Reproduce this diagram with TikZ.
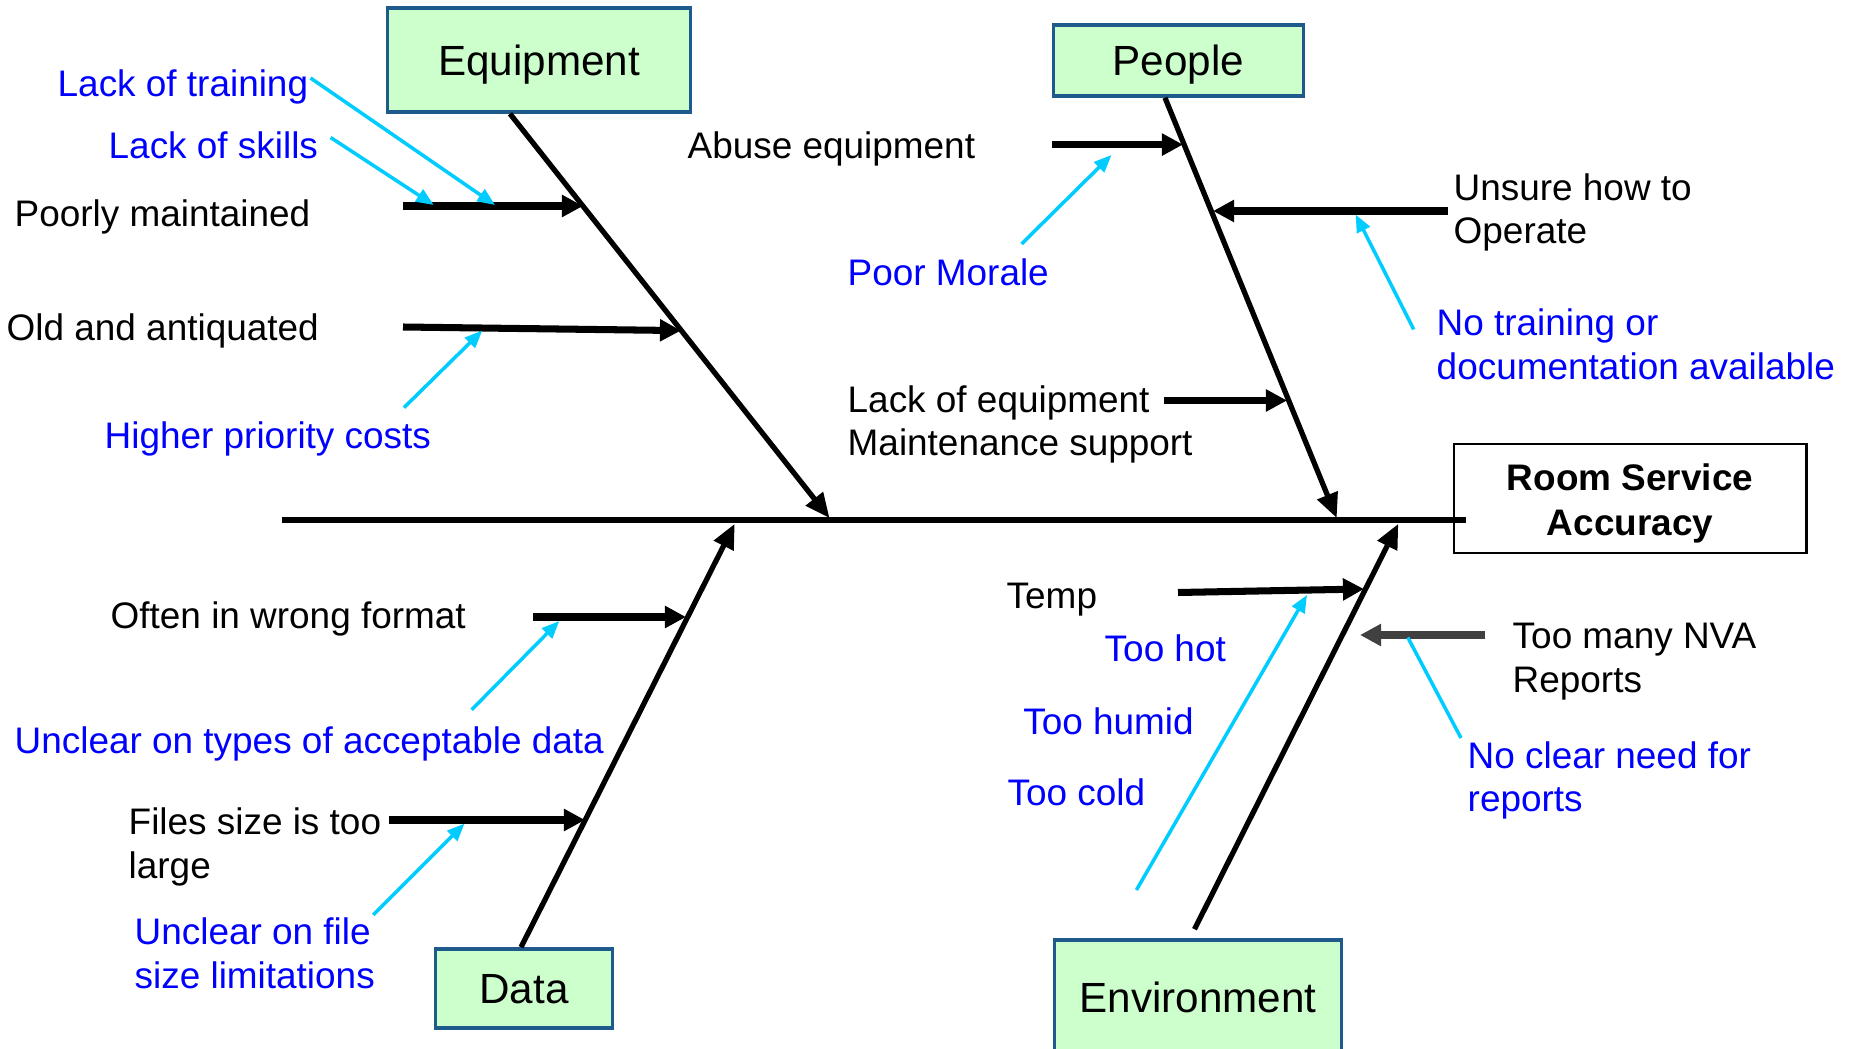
\documentclass[tikz,border=0pt]{standalone}
\usepackage{fontspec}
\setmainfont{Liberation Sans}
\usepackage{tikz}
\usetikzlibrary{arrows.meta,positioning}

\definecolor{boxfill}{HTML}{CCFFCC}
\definecolor{boxline}{HTML}{1F5A8C}
\definecolor{hintcyan}{HTML}{00CCFF}
\definecolor{darkarrow}{HTML}{404040}

\tikzset{
  category/.style={draw=boxline, line width=1pt, fill=boxfill, inner sep=0pt, text height=0.88em, text depth=0pt, font=\fontsize{12}{14}\selectfont},
  cause/.style={inner sep=0pt, anchor=west, align=left, yshift=-0.045cm, font=\fontsize{10.5}{12.4}\selectfont},
  subcause/.style={cause, text=blue},
  bone/.style={line width=1.5pt, -{Triangle[length=7pt,width=6pt]}},
  twig/.style={line width=2pt, -{Triangle[length=6pt,width=6pt]}},
  hint/.style={draw=hintcyan, line width=1pt, -{Triangle[length=5pt,width=4pt]}}
}

\begin{document}
\begin{tikzpicture}[x=0.01cm, y=-0.01cm]
\useasboundingbox (0,0) rectangle (1858,1049);

% effect and category boxes
\node[draw, line width=0.8pt, minimum width=3.52cm, minimum height=1.09cm, name=result] at (1630,498.5) {};
\node[align=center, font=\bfseries\fontsize{10.5}{13}\selectfont, name=resulttext] at ([yshift=-0.05cm]result.center) {Room Service\\Accuracy};
\node[category, name=eq, minimum width=3.03cm, minimum height=1.04cm] at (539,60) {Equipment};
\node[category, name=pe, minimum width=2.50cm, minimum height=0.71cm] at (1178.5,60.5) {People};
\node[category, name=da, minimum width=1.77cm, minimum height=0.79cm] at (524,988.5) {Data};
\node[category, name=en, minimum width=2.87cm, minimum height=1.15cm] at (1198,997.5) {Environment};

% spine and bones
\coordinate (tail) at (282,520);
\coordinate (eqjoint) at (829.5,518);
\coordinate (pejoint) at (1336.7,518);
\coordinate (dajoint) at (734.7,523.8);
\coordinate (enjoint) at (1398.3,523.8);
\draw[line width=1.5pt] (tail) -- ([xshift=0.13cm]tail -| result.west);
\draw[bone] ([xshift=-0.29cm]eq.south) -- (eqjoint);
\draw[bone] ([xshift=-0.135cm]pe.south) -- (pejoint);
\draw[bone] ([xshift=-0.03cm]da.north) -- (dajoint);
\draw[bone] ([xshift=-0.035cm,yshift=0.09cm]en.north) -- (enjoint);

% causes
\node[cause, name=poorly] at (14,212) {Poorly maintained};
\node[cause, name=old] at (6,326) {Old and antiquated};
\node[cause, name=abuse] at (687,144) {Abuse equipment};
\node[cause, name=unsure] at (1453,208) {Unsure how to\\Operate};
\node[cause, name=lackeq] at (847,420) {Lack of equipment\\Maintenance support};
\node[cause, name=often] at (110,614) {Often in wrong format};
\node[cause, name=files] at (128,842.5) {Files size is too\\large};
\node[cause, name=temp] at (1006,595) {Temp};
\node[cause, name=nva] at (1512,657) {Too many NVA\\Reports};

% sub causes
\node[subcause, name=training] at (57,82) {Lack of training};
\node[subcause, name=skills] at (108,141) {Lack of skills};
\node[subcause, name=priority] at (104,434) {Higher priority costs};
\node[subcause, name=morale] at (847,268) {Poor Morale};
\node[subcause, name=notrain] at (1436,340) {No training or\\documentation available};
\node[subcause, name=types] at (14,739) {Unclear on types of acceptable data};
\node[subcause, name=filesize] at (134,949) {Unclear on file\\size limitations};
\node[subcause, name=hot] at (1104,643.5) {Too hot};
\node[subcause, name=humid] at (1022.6,717) {Too humid};
\node[subcause, name=cold] at (1007,788) {Too cold};
\node[subcause, name=noneed] at (1467,776) {No clear need for\\reports};

% twig ends
\coordinate (poorlyA) at (403,206);   \coordinate (poorlyB) at (583,206);
\coordinate (oldA) at (403,327);      \coordinate (oldB) at (681,330.6);
\coordinate (abuseA) at (1052,144.6); \coordinate (abuseB) at (1183,144.6);
\coordinate (unsureA) at (1448,211);  \coordinate (unsureB) at (1213,211);
\coordinate (lackeqA) at (1163.7,400.5); \coordinate (lackeqB) at (1287,400.5);
\coordinate (oftenA) at (533,617);    \coordinate (oftenB) at (686,617);
\coordinate (filesA) at (388.7,820);  \coordinate (filesB) at (585,820);
\coordinate (tempA) at (1178,592.5);  \coordinate (tempB) at (1364,589);
\coordinate (nvaA) at (1485,635);     \coordinate (nvaB) at (1360,635);

% connections
\draw[twig] (poorlyA) -- (poorlyB);
\draw[twig] (oldA) -- (oldB);
\draw[twig] (abuseA) -- (abuseB);
\draw[twig] (unsureA) -- (unsureB);
\draw[twig] (lackeqA) -- (lackeqB);
\draw[twig] (oftenA) -- (oftenB);
\draw[twig] (filesA) -- (filesB);
\draw[twig] (tempA) -- (tempB);
\draw[twig, darkarrow] (nvaA) -- (nvaB);

% hint arrows
\coordinate (trainingA) at (310.5,78);  \coordinate (trainingB) at (495,205);
\coordinate (skillsA) at (330.6,137.5); \coordinate (skillsB) at (433.7,205);
\coordinate (priorityA) at (404,407.6); \coordinate (priorityB) at (482.3,330.6);
\coordinate (moraleA) at (1021.5,244);  \coordinate (moraleB) at (1111.5,155);
\coordinate (notrainA) at (1413.7,329.4); \coordinate (notrainB) at (1355.6,214.5);
\coordinate (typesA) at (471.6,709.8);  \coordinate (typesB) at (559.3,621);
\coordinate (filesizeA) at (373.3,914.8); \coordinate (filesizeB) at (464.5,823.6);
\coordinate (climateA) at (1136.4,890); \coordinate (climateB) at (1307,594.9);
\coordinate (noneedA) at (1461,738);    \coordinate (noneedB) at (1407.8,637.5);
\draw[hint] (trainingA) -- (trainingB);
\draw[hint] (skillsA) -- (skillsB);
\draw[hint] (priorityA) -- (priorityB);
\draw[hint] (moraleA) -- (moraleB);
\draw[hint] (notrainA) -- (notrainB);
\draw[hint] (typesA) -- (typesB);
\draw[hint] (filesizeA) -- (filesizeB);
\draw[hint] (climateA) -- (climateB);
\draw[hint, -] (noneedA) -- (noneedB);

\end{tikzpicture}
\end{document}
